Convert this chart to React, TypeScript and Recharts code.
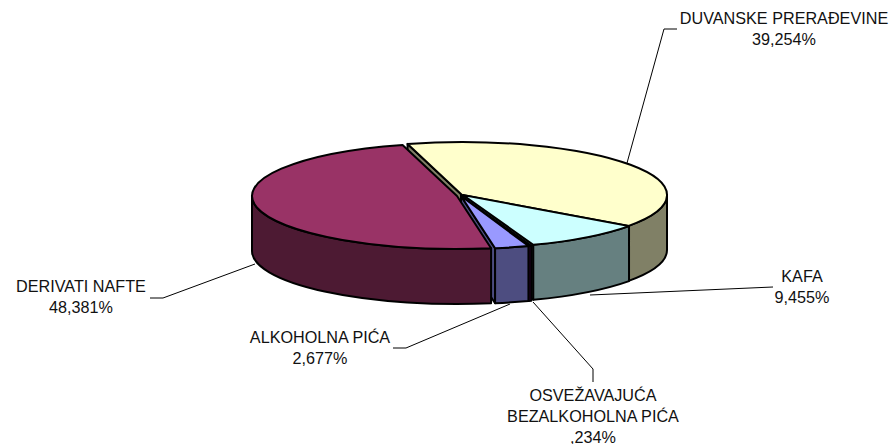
import React from "react";
import { PieChart, Pie } from "recharts";

const categories = ["DUVANSKE PRERAĐEVINE", "KAFA", "OSVEŽAVAJUĆA BEZALKOHOLNA PIĆA", "ALKOHOLNA PIĆA", "DERIVATI NAFTE"];
const shares = [39.254, 9.455, 0.234, 2.677, 48.381];
const valueLabels = ["39,254%", "9,455%", ",234%", "2,677%", "48,381%"];
const topColors = ["#FFFFCC", "#CCFFFF", "#660066", "#9999FF", "#993366"];
const wallColors = ["#808066", "#668080", "#330033", "#4D4D80", "#4D1A33"];

const data = categories.map((name, i) => ({ name, value: shares[i] }));

const labelLines: string[][] = [
  ["DUVANSKE PRERAĐEVINE", valueLabels[0]],
  ["KAFA", valueLabels[1]],
  ["OSVEŽAVAJUĆA", "BEZALKOHOLNA PIĆA", valueLabels[2]],
  ["ALKOHOLNA PIĆA", valueLabels[3]],
  ["DERIVATI NAFTE", valueLabels[4]],
];
const labelAnchor = [[784, 24], [802, 282], [593, 401], [320, 343], [81, 292]];
const leaders = [
  "677,29 664,29 627,163",
  "773,287 590,295",
  "593,382 593,369 533,302",
  "393,348 406,348 510,304",
  "150,298 163,298 255,264",
];
const explode = [[2, -1], [3, -1], [1, 0], [1, 0], [-3, 0]];

const RX = 205;
const RY = 53;
const DEPTH = 55;
const rad = Math.PI / 180;

const rim = (cx: number, cy: number, a: number, drop = 0): [number, number] => [
  cx + RX * Math.sin(a * rad),
  cy - RY * Math.cos(a * rad) + drop,
];
const fmt = (p: [number, number]) => `${p[0].toFixed(2)} ${p[1].toFixed(2)}`;

function center(props: any) {
  const e = explode[props.index ?? 0] ?? [0, 0];
  return [props.cx + e[0], props.cy + e[1]];
}
function findIndex(props: any, idx: number) {
  const name = props.name ?? props.payload?.name;
  const found = categories.indexOf(name);
  return found >= 0 ? found : idx;
}

function Wall(props: any, idx: number) {
  const index = findIndex(props, idx);
  const [cx, cy] = center({ ...props, index });
  const a0 = 90 - props.startAngle;
  const a1 = 90 - props.endAngle;
  const fill = wallColors[index];
  const parts: React.ReactNode[] = [];
  const cut = (a: number, key: string) => (
    <path
      key={key}
      d={`M${fmt([cx, cy])} L${fmt(rim(cx, cy, a))} L${fmt(rim(cx, cy, a, DEPTH))} L${fmt([cx, cy + DEPTH])} Z`}
      fill={fill}
      stroke="#000"
      strokeWidth={2}
      strokeLinejoin="round"
    />
  );
  if (Math.sin(a0 * rad) < 0) parts.push(cut(a0, "s"));
  if (Math.sin(a1 * rad) > 0) parts.push(cut(a1, "e"));
  const from = Math.max(a0, 90);
  const to = Math.min(a1, 270);
  if (to > from) {
    const large = to - from > 180 ? 1 : 0;
    parts.push(
      <path
        key="w"
        d={`M${fmt(rim(cx, cy, from))} A${RX} ${RY} 0 ${large} 1 ${fmt(rim(cx, cy, to))} L${fmt(rim(cx, cy, to, DEPTH))} A${RX} ${RY} 0 ${large} 0 ${fmt(rim(cx, cy, from, DEPTH))} Z`}
        fill={fill}
        stroke="#000"
        strokeWidth={2}
        strokeLinejoin="round"
      />
    );
  }
  return <g>{parts}</g>;
}

function Top(props: any, idx: number) {
  const index = findIndex(props, idx);
  const [cx, cy] = center({ ...props, index });
  const a0 = 90 - props.startAngle;
  const a1 = 90 - props.endAngle;
  const large = a1 - a0 > 180 ? 1 : 0;
  return (
    <path
      d={`M${fmt([cx, cy])} L${fmt(rim(cx, cy, a0))} A${RX} ${RY} 0 ${large} 1 ${fmt(rim(cx, cy, a1))} Z`}
      fill={topColors[index]}
      stroke="#000"
      strokeWidth={2}
      strokeLinejoin="round"
    />
  );
}

function SliceLabel(props: any) {
  const index = findIndex(props, props.index);
  const [x, y] = labelAnchor[index];
  return (
    <g>
      <polyline points={leaders[index]} fill="none" stroke="#000" strokeWidth={1} />
      <text x={x} y={y} textAnchor="middle" fontFamily="Liberation Sans" fontSize={16.2} fill="#111">
        {labelLines[index].map((line, i) => (
          <tspan key={i} x={x} y={y + i * 21}>
            {line}
          </tspan>
        ))}
      </text>
    </g>
  );
}

export default function App() {
  return (
    <div style={{ position: "absolute", left: 0, top: 0, width: 892, height: 444, background: "#fff" }}>
      <PieChart width={892} height={444} margin={{ top: 0, right: 0, bottom: 0, left: 0 }}>
        <Pie
          data={data}
          dataKey="value"
          nameKey="name"
          cx={460}
          cy={196}
          outerRadius={RX}
          startAngle={105.4}
          endAngle={-254.6}
          isAnimationActive={false}
          shape={Wall as any}
          label={false}
          labelLine={false}
        />
        <Pie
          data={data}
          dataKey="value"
          nameKey="name"
          cx={460}
          cy={196}
          outerRadius={RX}
          startAngle={105.4}
          endAngle={-254.6}
          isAnimationActive={false}
          shape={Top as any}
          label={SliceLabel as any}
          labelLine={false}
        />
      </PieChart>
    </div>
  );
}
